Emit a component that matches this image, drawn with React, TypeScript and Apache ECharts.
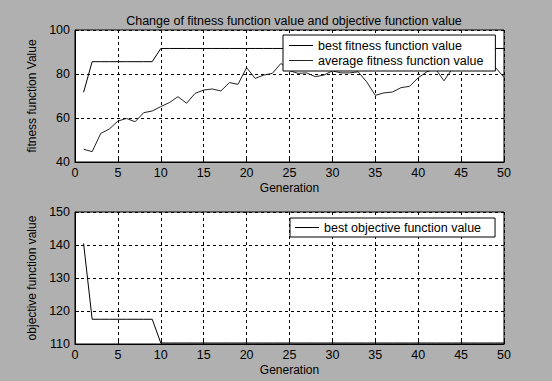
import React, { useEffect, useRef } from "react";
import * as echarts from "echarts";

const generations: number[] = [
  1, 2, 3, 4, 5, 6, 7, 8, 9, 10, 11, 12, 13, 14, 15, 16, 17, 18, 19, 20, 21, 22, 23, 24, 25,
  26, 27, 28, 29, 30, 31, 32, 33, 34, 35, 36, 37, 38, 39, 40, 41, 42, 43, 44, 45, 46, 47, 48, 49, 50,
];

const bestFitness: number[] = [
  71.7, 85.6, 85.6, 85.6, 85.6, 85.6, 85.6, 85.6, 85.6, 91.6,
  91.6, 91.6, 91.6, 91.6, 91.6, 91.6, 91.6, 91.6, 91.6, 91.6,
  91.6, 91.6, 91.6, 91.6, 91.6, 91.6, 91.6, 91.6, 91.6, 91.6,
  91.6, 91.6, 91.6, 91.6, 91.6, 91.6, 91.6, 91.6, 91.6, 91.6,
  91.6, 91.6, 91.6, 91.6, 91.6, 91.6, 91.6, 91.6, 91.6, 91.6,
];

const avgFitness: number[] = [
  45.8, 44.7, 53.0, 55.0, 58.6, 59.8, 58.3, 62.4, 63.2, 65.2,
  67.0, 69.7, 66.7, 71.2, 72.7, 73.2, 72.3, 76.1, 75.3, 82.9,
  78.0, 79.5, 80.3, 84.8, 81.5, 80.3, 80.5, 78.8, 79.5, 81.4,
  80.5, 80.5, 81.0, 76.4, 70.3, 71.4, 71.8, 73.8, 74.4, 78.3,
  81.0, 82.5, 76.9, 82.5, 84.0, 84.0, 85.0, 84.0, 83.0, 78.5,
];

const bestObjective: number[] = [
  140.5, 117.5, 117.5, 117.5, 117.5, 117.5, 117.5, 117.5, 117.5, 110.3,
  110.3, 110.3, 110.3, 110.3, 110.3, 110.3, 110.3, 110.3, 110.3, 110.3,
  110.3, 110.3, 110.3, 110.3, 110.3, 110.3, 110.3, 110.3, 110.3, 110.3,
  110.3, 110.3, 110.3, 110.3, 110.3, 110.3, 110.3, 110.3, 110.3, 110.3,
  110.3, 110.3, 110.3, 110.3, 110.3, 110.3, 110.3, 110.3, 110.3, 110.3,
];

const titleText = "Change of fitness function value and objective function value";
const seriesNames = ["best fitness function value", "average fitness function value", "best objective function value"];

const FONT = "Liberation Sans, Arial, sans-serif";

const pair = (ys: number[]) => generations.map((g, i) => [g, ys[i]]);

const splitLine = { show: true, lineStyle: { color: "#000", type: [3, 3] as any, width: 1 } };

function xAxisCfg(gridIndex: number) {
  return {
    type: "value",
    gridIndex,
    min: 0,
    max: 50,
    interval: 5,
    name: "Generation",
    nameLocation: "middle",
    nameGap: 20,
    nameTextStyle: { color: "#000", fontSize: 12, fontFamily: FONT },
    axisLine: { show: true, lineStyle: { color: "#000", width: 1 } },
    axisTick: { show: true, inside: true, length: 4, lineStyle: { color: "#000" } },
    axisLabel: { color: "#000", fontSize: 12.5, fontFamily: FONT, margin: 4 },
    splitLine,
  };
}

function yAxisCfg(gridIndex: number, min: number, max: number, interval: number, name: string) {
  return {
    type: "value",
    gridIndex,
    min,
    max,
    interval,
    name,
    nameLocation: "middle",
    nameGap: 36,
    nameTextStyle: { color: "#000", fontSize: 12, fontFamily: FONT },
    axisLine: { show: true, lineStyle: { color: "#000", width: 1 } },
    axisTick: { show: true, inside: true, length: 4, lineStyle: { color: "#000" } },
    axisLabel: { color: "#000", fontSize: 12.5, fontFamily: FONT, margin: 5 },
    splitLine,
  };
}

function legendCfg(left: number, top: number, data: string[], padding: number[]) {
  return {
    left,
    top,
    z: 20,
    zlevel: 0,
    orient: "vertical",
    data,
    icon: "rect",
    itemWidth: 24,
    itemHeight: 1,
    itemGap: 0,
    itemTextGap: 8,
    padding,
    backgroundColor: "#fff",
    borderColor: "#000",
    borderWidth: 1,
    borderRadius: 0,
    selectedMode: false,
    textStyle: { color: "#000", fontSize: 12.5, fontFamily: FONT, lineHeight: 15 },
  };
}

export default function App() {
  const ref = useRef<HTMLDivElement>(null);
  useEffect(() => {
    if (!ref.current) return;
    const chart = echarts.init(ref.current, undefined, { renderer: "svg" });
    chart.setOption({
      animation: false,
      backgroundColor: "#b0b0b0",
      title: {
        text: titleText,
        left: 289,
        textAlign: "center",
        top: 9,
        textStyle: { color: "#000", fontSize: 12.5, fontWeight: "normal", fontFamily: FONT },
      },
      grid: [
        { left: 75, top: 30, width: 429, height: 132, show: true, backgroundColor: "#fff", borderColor: "#000", borderWidth: 1 },
        { left: 75, top: 212, width: 429, height: 132, show: true, backgroundColor: "#fff", borderColor: "#000", borderWidth: 1 },
      ],
      xAxis: [xAxisCfg(0), xAxisCfg(1)],
      yAxis: [
        yAxisCfg(0, 40, 100, 20, "fitness function Value"),
        yAxisCfg(1, 110, 150, 10, "objective function value"),
      ],
      legend: [
        legendCfg(283, 35, [seriesNames[0], seriesNames[1]], [3, 12, 3, 6]),
        legendCfg(290, 218, [seriesNames[2]], [2, 14, 2, 5]),
      ],
      series: [
        {
          name: seriesNames[0],
          type: "line",
          xAxisIndex: 0,
          yAxisIndex: 0,
          data: pair(bestFitness),
          symbol: "none",
          lineStyle: { color: "#000", width: 1 },
          itemStyle: { color: "#000" },
          z: 1,
        },
        {
          name: seriesNames[1],
          type: "line",
          xAxisIndex: 0,
          yAxisIndex: 0,
          data: pair(avgFitness),
          symbol: "none",
          lineStyle: { color: "#222", width: 1 },
          itemStyle: { color: "#222" },
          z: 1,
        },
        {
          name: seriesNames[2],
          type: "line",
          xAxisIndex: 1,
          yAxisIndex: 1,
          data: pair(bestObjective),
          symbol: "none",
          lineStyle: { color: "#000", width: 1 },
          itemStyle: { color: "#000" },
          z: 1,
        },
      ],
    });
    return () => chart.dispose();
  }, []);
  return <div ref={ref} style={{ position: "absolute", left: 0, top: 0, width: 552, height: 381 }} />;
}
